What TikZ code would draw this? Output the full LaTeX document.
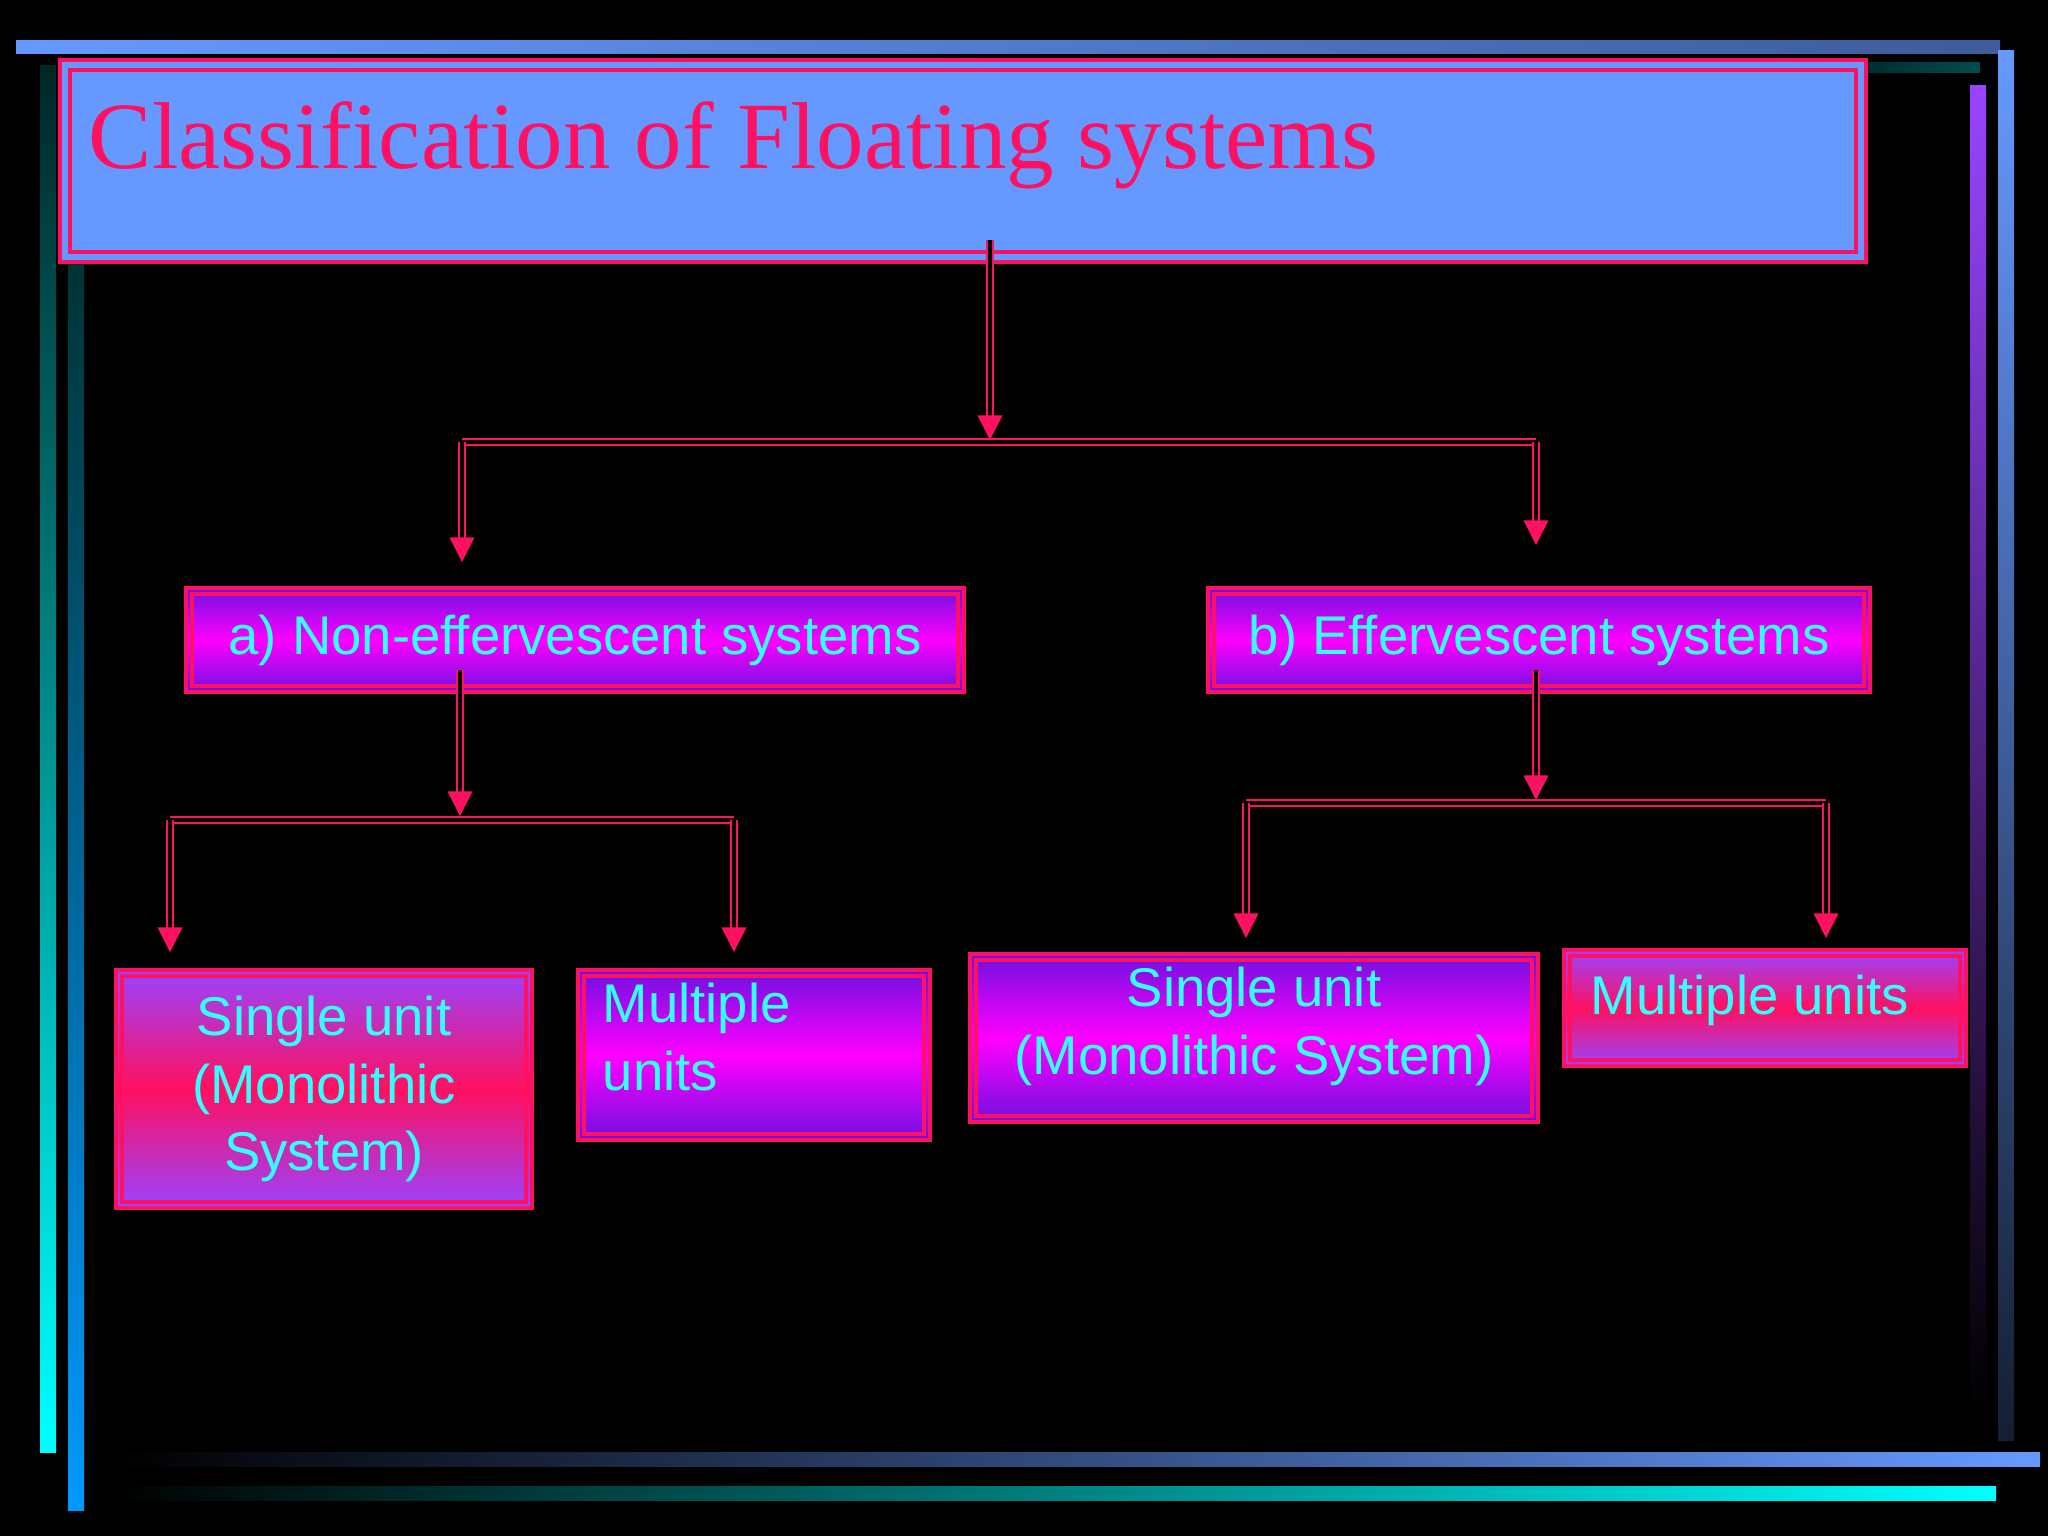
\documentclass[tikz,border=0pt]{standalone}
\usepackage{fontspec}
\setmainfont{Liberation Sans}
\newfontfamily\titlefont{Liberation Serif}
\usetikzlibrary{arrows.meta}
\definecolor{pk}{HTML}{FF1060}
\definecolor{tb}{HTML}{6699FF}
\definecolor{cy}{HTML}{33FFFF}
\definecolor{pu}{HTML}{7010E0}
\definecolor{mg}{HTML}{FF00FF}
\definecolor{pu2}{HTML}{9944FF}
\tikzset{
 pmp/.style={top color=pu, bottom color=pu, middle color=mg},
 ppp/.style={top color=pu2, bottom color=pu2, middle color=pk},
 btext/.style={text=cy, inner sep=0pt, font=\fontsize{15.5}{19.3}\selectfont},
 dbl/.style={draw=pk, line width=0.6pt, double=black, double distance=1.3pt},
 tip/.style={pk, line width=0.4pt, -{Triangle[width=7pt,length=7pt]}},
}
% \mybox{name}{x1}{y1}{x2}{y2}{style}
\newcommand{\mybox}[6]{%
 \path[#6, draw=pk, line width=1.4pt] (#2,#3) rectangle (#4,#5);
 \draw[pk, line width=1.1pt] ({#2+6},{#3+6}) rectangle ({#4-6},{#5-6});
 \coordinate (#1) at ({(#2+#4)/2},{(#3+#5)/2});
 \coordinate (#1-w) at (#2,{(#3+#5)/2});}
\newcommand{\arr}[1]{\draw[tip] ([shift={(0,-18)}]#1) -- (#1);}
\begin{document}
\begin{tikzpicture}[x=0.01cm,y=-0.01cm]
\fill[black] (0,0) rectangle (2048,1536);
\useasboundingbox (0,0) rectangle (2048,1536);
% frame bars
\shade[left color=tb, right color=tb!60!black] (16,40) rectangle (2000,53);
\shade[left color=black, right color=teal!60!black] (1700,62) rectangle (1980,72);
\shade[top color=teal!30!black, bottom color=cyan] (40,65) rectangle (56,1452);
\shade[top color=teal!40!black, bottom color=cyan!60!blue] (68,260) rectangle (84,1510);
\shade[top color=pu2, bottom color=black] (1970,85) rectangle (1986,1412);
\shade[top color=tb, bottom color=tb!20!black] (1998,50) rectangle (2014,1440);
\shade[left color=black, right color=tb] (110,1452) rectangle (2040,1466);
\shade[left color=black, right color=cyan] (110,1486) rectangle (1996,1500);
% title
\path[fill=tb, draw=pk, line width=1.4pt] (60,60) rectangle (1866,262);
\draw[pk, line width=1.1pt] (70,70) rectangle (1856,252);
\node[anchor=base west, text=pk, inner sep=0pt, font=\titlefont\fontsize{27}{30}\selectfont] (tt) at (88,168) {Classification of Floating systems};
% level 1
\mybox{a}{186}{588}{964}{692}{pmp}
\node[btext] (at) at (a) {a) Non-effervescent systems};
\mybox{b}{1208}{588}{1870}{692}{pmp}
\node[btext] (bt) at (b) {b) Effervescent systems};
% level 2
\mybox{c1}{116}{970}{532}{1208}{ppp}
\node[btext, align=center] (c1t) at (c1) {Single unit\\(Monolithic\\System)};
\mybox{c2}{578}{970}{930}{1140}{pmp}
\node[btext, align=left, anchor=west] (c2t) at ([shift={(24,-18)}]c2-w) {Multiple\\units};
\mybox{d1}{970}{954}{1538}{1122}{pmp}
\node[btext, align=center] (d1t) at ([shift={(0,-12)}]d1) {Single unit\\(Monolithic System)};
\mybox{d2}{1564}{950}{1966}{1066}{ppp}
\node[btext, anchor=west] (d2t) at ([shift={(26,-8)}]d2-w) {Multiple units};
% connectors
\coordinate (t0) at (990,240); \coordinate (t1) at (990,440);
\coordinate (hl) at (462,442); \coordinate (hr) at (1536,442);
\coordinate (la) at (462,562); \coordinate (lb) at (1536,545);
\draw[dbl] (t0) -- ([shift={(0,-18)}]t1); \arr{t1}
\draw[dbl] (hl) -- (hr);
\draw[dbl] (hl) -- ([shift={(0,-18)}]la); \arr{la}
\draw[dbl] (hr) -- ([shift={(0,-18)}]lb); \arr{lb}
\coordinate (a0) at (460,670); \coordinate (a1) at (460,816);
\coordinate (al) at (170,820); \coordinate (ar) at (734,820);
\coordinate (c1a) at (170,952); \coordinate (c2a) at (734,952);
\draw[dbl] (a0) -- ([shift={(0,-18)}]a1); \arr{a1}
\draw[dbl] (al) -- (ar);
\draw[dbl] (al) -- ([shift={(0,-18)}]c1a); \arr{c1a}
\draw[dbl] (ar) -- ([shift={(0,-18)}]c2a); \arr{c2a}
\coordinate (b0) at (1536,670); \coordinate (b1) at (1536,800);
\coordinate (bl) at (1246,803); \coordinate (br) at (1826,803);
\coordinate (d1a) at (1246,938); \coordinate (d2a) at (1826,938);
\draw[dbl] (b0) -- ([shift={(0,-18)}]b1); \arr{b1}
\draw[dbl] (bl) -- (br);
\draw[dbl] (bl) -- ([shift={(0,-18)}]d1a); \arr{d1a}
\draw[dbl] (br) -- ([shift={(0,-18)}]d2a); \arr{d2a}
\end{tikzpicture}
\end{document}
